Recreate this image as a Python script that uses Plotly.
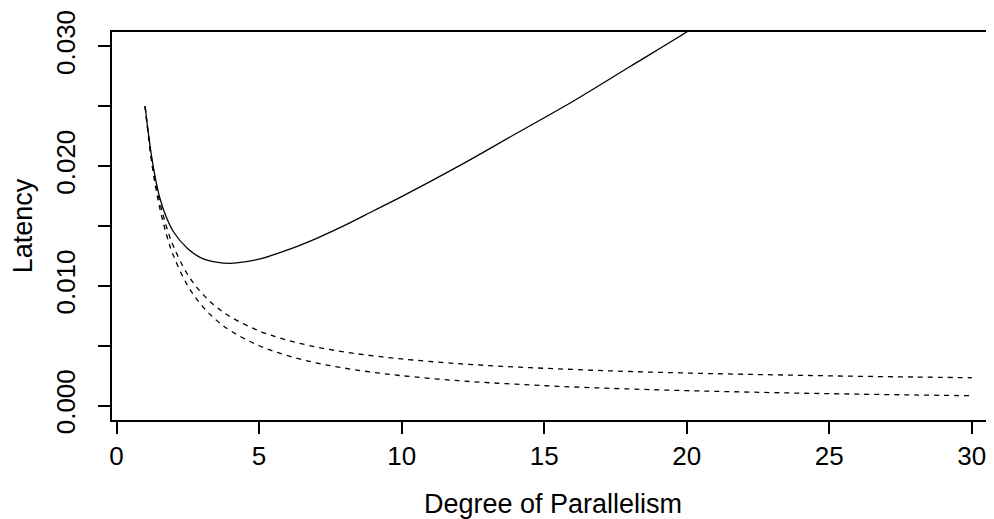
import plotly.graph_objects as go

# Degree of parallelism (x) sample points
n_solid = [1, 1.25, 1.5, 1.75, 2, 2.5, 3, 3.5, 4, 4.5, 5, 6, 7, 8, 9, 10, 12, 14, 16, 18, 20, 20.5]
latency_solid = [0.0250, 0.0205, 0.0175, 0.0157, 0.0145, 0.0131, 0.0123, 0.01198, 0.01188, 0.01200,
                 0.01223, 0.01300, 0.01395, 0.01505, 0.01625, 0.01745, 0.0200, 0.0227, 0.0254,
                 0.0283, 0.0312, 0.0320]

n_dashed = [1, 1.25, 1.5, 1.75, 2, 2.5, 3, 3.5, 4, 5, 6, 7, 8, 9, 10, 12, 14, 16, 18, 20,
            22, 24, 26, 28, 30]
latency_dashed_upper = [0.0250, 0.02031, 0.01718, 0.01495, 0.01328, 0.01093, 0.00937, 0.00825,
                        0.00741, 0.00624, 0.00546, 0.00490, 0.00448, 0.00416, 0.00390, 0.00350,
                        0.00323, 0.00302, 0.00285, 0.00272, 0.00262, 0.00253, 0.00245, 0.00239,
                        0.00233]
latency_dashed_lower = [0.0250, 0.0200, 0.01667, 0.01429, 0.0125, 0.0100, 0.00833, 0.00714,
                        0.00625, 0.0050, 0.00417, 0.00357, 0.00313, 0.00278, 0.0025, 0.00208,
                        0.00179, 0.00156, 0.00139, 0.00125, 0.00114, 0.00104, 0.00096, 0.00089,
                        0.00083]

x_ticks = [0, 5, 10, 15, 20, 25, 30]
y_ticks = [0.000, 0.005, 0.010, 0.015, 0.020, 0.025, 0.030]
y_tick_text = ["0.000", "", "0.010", "", "0.020", "", "0.030"]

FONT = "Liberation Sans, Arial, Helvetica, sans-serif"

fig = go.Figure()
fig.add_trace(go.Scatter(x=n_dashed, y=latency_dashed_upper, mode="lines", line_shape="spline",
                         line=dict(color="black", width=1.3, dash="5px,5px"), showlegend=False))
fig.add_trace(go.Scatter(x=n_dashed, y=latency_dashed_lower, mode="lines", line_shape="spline",
                         line=dict(color="black", width=1.3, dash="5px,5px"), showlegend=False))
fig.add_trace(go.Scatter(x=n_solid, y=latency_solid, mode="lines", line_shape="spline",
                         line=dict(color="black", width=1.3), showlegend=False))

# page body adds an 8px offset, so the figure is sized to the visible area
fig.update_layout(
    width=986, height=511,
    margin=dict(l=104, r=0, t=24, b=99, autoexpand=False),
    paper_bgcolor="white", plot_bgcolor="white",
    font=dict(family=FONT, size=26, color="black"),
    xaxis=dict(
        range=[-0.16, 30.78], tickmode="array", tickvals=x_ticks,
        ticktext=[str(v) for v in x_ticks], automargin=False,
        ticks="outside", ticklen=12, tickwidth=1.5, tickcolor="black",
        showline=True, linecolor="black", linewidth=1.8, mirror=True,
        showgrid=False, zeroline=False, ticklabelstandoff=0,
        title=dict(text="Degree of Parallelism", standoff=34,
                   font=dict(family=FONT, size=27, color="black")),
    ),
    yaxis=dict(
        range=[-0.0012, 0.0312], tickmode="array", tickvals=y_ticks, ticktext=y_tick_text,
        automargin=False,
        ticks="outside", ticklen=12, tickwidth=1.5, tickcolor="black", tickangle=-90,
        showline=True, linecolor="black", linewidth=1.8, mirror=False,
        showgrid=False, zeroline=False, ticklabelstandoff=13,
        title=dict(text="Latency", standoff=12,
                   font=dict(family=FONT, size=27, color="black")),
    ),
)

fig.write_html("out.html")
